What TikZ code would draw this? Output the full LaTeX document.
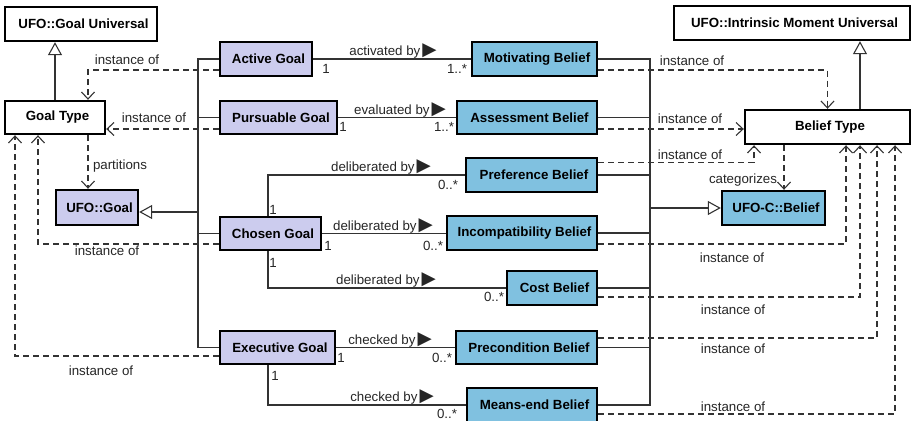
\documentclass[tikz,border=0pt]{standalone}
\usepackage{fontspec}
\setmainfont{Liberation Sans}
\newfontfamily\trifont{DejaVu Sans}
\usetikzlibrary{arrows.meta}

\definecolor{goalfill}{RGB}{204,204,238}
\definecolor{belieffill}{RGB}{128,193,224}
\newcommand\lbl{\fontsize{13.3}{15}\selectfont}
\newcommand\tri{\kern2pt{\trifont\fontsize{18.5}{18}\selectfont ▶}}

\tikzset{
  cls/.style={draw=black, line width=2.4pt, minimum height=34pt,
              inner sep=0pt, font=\lbl\bfseries,
              execute at begin node=\hspace*{5pt}},
  metabox/.style={cls, fill=white},
  goal/.style={cls, fill=goalfill},
  belief/.style={cls, fill=belieffill},
  conn/.style={line width=1.1pt, draw=black!80},
  gen/.style={conn, -{Triangle[open, fill=white, length=13pt, width=14pt]}},
  inst/.style={conn, dash pattern=on 6pt off 4pt,
               -{Straight Barb[length=7pt, width=13pt]}},
  rel/.style={anchor=south, inner sep=0.5pt, text=black!85},
  note/.style={inner sep=0pt, text=black!85},
}

\begin{document}
\begin{tikzpicture}[x=1pt, y=1pt, font=\lbl]
  \useasboundingbox (0,0) rectangle (912,-420);

  % meta level
  \node[metabox, minimum width=152pt] (gu) at (81,-24) {UFO::Goal Universal};
  \node[metabox, minimum width=100pt, minimum height=33pt] (gtype) at (55,-117.5) {Goal Type};
  \node[metabox, minimum width=236pt] (imu) at (792,-23) {UFO::Intrinsic Moment Universal};
  \node[metabox, minimum width=165pt] (btype) at (827.5,-127) {Belief Type};

  % goals
  \node[goal, minimum width=82pt, minimum height=35pt] (ugoal) at (97,-207.5) {UFO::Goal};
  \node[goal, minimum width=92pt] (active) at (266,-59) {Active Goal};
  \node[goal, minimum width=117pt, minimum height=33pt] (pursue) at (278.5,-117.5) {Pursuable Goal};
  \node[goal, minimum width=101pt, minimum height=33pt] (chosen) at (270.5,-233.5) {Chosen Goal};
  \node[goal, minimum width=115pt, minimum height=33pt] (exec) at (277.5,-347.5) {Executive Goal};

  % beliefs
  \node[belief, minimum width=125pt] (motiv) at (534.5,-59) {Motivating Belief};
  \node[belief, minimum width=140pt, minimum height=33pt] (assess) at (527,-117.5) {Assessment Belief};
  \node[belief, minimum width=131pt] (pref) at (531.5,-175) {Preference Belief};
  \node[belief, minimum width=150pt] (incomp) at (522,-233) {Incompatibility Belief};
  \node[belief, minimum width=90pt] (cost) at (552,-288) {Cost Belief};
  \node[belief, minimum width=141pt, minimum height=33pt] (precond) at (526.5,-347.5) {Precondition Belief};
  \node[belief, minimum width=130pt] (means) at (532,-405) {Means-end Belief};
  \node[belief, minimum width=103pt] (cbelief) at (773.5,-208) {UFO-C::Belief};

  % specialisation
  \draw[gen] (gtype.north) -- (gtype.north |- gu.south);
  \coordinate (bgen) at ([xshift=32.5pt]btype.north);
  \draw[gen] (bgen) -- (bgen |- imu.south);

  \coordinate (gtrunk) at (198,0);
  \draw[conn] (active.west) -| (gtrunk |- exec.west) -- (exec.west);
  \foreach \g in {pursue, chosen}
    \draw[conn] (\g.west) -- (gtrunk |- \g.west);
  \coordinate (gtip) at ([yshift=-4.5pt]ugoal.east);
  \draw[gen] (gtip -| gtrunk) -- (gtip);

  \coordinate (btrunk) at (650,0);
  \draw[conn] (motiv.east) -| (btrunk |- means.east) -- (means.east);
  \foreach \b in {assess, pref, incomp, cost, precond}
    \draw[conn] (\b.east) -- (btrunk |- \b.east);
  \draw[gen] (btrunk |- cbelief.west) -- (cbelief.west);

  % associations
  \coordinate (stem) at (268,0);
  \draw[conn] (active.east) -- (motiv.west);
  \draw[conn] (pursue.east) -- (assess.west);
  \draw[conn] (stem |- chosen.north) |- (pref.west);
  \draw[conn] (chosen.east) -- (incomp.west |- chosen.east);
  \draw[conn] (stem |- chosen.south) |- (cost.west);
  \draw[conn] (exec.east) -- (precond.west);
  \draw[conn] (stem |- exec.south) |- (means.west);

  \node[rel] (r1) at (393,-59) {activated by\tri};
  \node[rel] (r2) at (400,-117.5) {evaluated by\tri};
  \node[rel] (r3) at (381,-175) {deliberated by\tri};
  \node[rel] (r4) at (383,-233.5) {deliberated by\tri};
  \node[rel] (r5) at (386,-288) {deliberated by\tri};
  \node[rel] (r6) at (390,-347.5) {checked by\tri};
  \node[rel] (r7) at (392,-405) {checked by\tri};

  % multiplicities
  \node[note] (m1) at (326,-69) {1};
  \node[note] (m2) at (457,-69) {1..*};
  \node[note] (m3) at (343,-127) {1};
  \node[note] (m4) at (444,-127) {1..*};
  \node[note] (m5) at (273,-210) {1};
  \node[note] (m6) at (448,-185) {0..*};
  \node[note] (m7) at (328,-246) {1};
  \node[note] (m8) at (433,-246) {0..*};
  \node[note] (m9) at (273,-263) {1};
  \node[note] (m10) at (494,-297) {0..*};
  \node[note] (m11) at (341,-358) {1};
  \node[note] (m12) at (442,-358) {0..*};
  \node[note] (m13) at (275,-376) {1};
  \node[note] (m14) at (447,-414) {0..*};

  % instantiation, goal side
  \draw[inst] ([yshift=-11pt]active.west) -| ([xshift=33pt]gtype.north);
  \draw[inst] ([yshift=-11.5pt]pursue.west) -- ([yshift=-11.5pt]gtype.east);
  \coordinate (gpart) at ([xshift=33pt]gtype.south);
  \draw[inst] (gpart) -- (gpart |- ugoal.north);
  \draw[inst] ([yshift=-10.5pt]chosen.west) -| ([xshift=-17pt]gtype.south);
  \draw[inst] ([yshift=-8.5pt]exec.west) -| ([xshift=-40pt]gtype.south);

  \node[note] (i1) at (127,-60) {instance of};
  \node[note] (i2) at (154,-118) {instance of};
  \node[note] (p1) at (120,-166) {partitions};
  \node[note] (i3) at (107,-251) {instance of};
  \node[note] (i4) at (101,-371) {instance of};

  % instantiation, belief side
  \draw[inst] ([yshift=-11pt]motiv.east) -| (btype.north);
  \coordinate (ai) at ([yshift=-11.5pt]assess.east);
  \draw[inst] (ai) -- (ai -| btype.west);
  \draw[inst] ([yshift=12.5pt]pref.east) -| ([xshift=-73.5pt]btype.south);
  \coordinate (bcat) at ([xshift=-43.5pt]btype.south);
  \draw[inst] (bcat) -- (bcat |- cbelief.north);
  \draw[inst] ([yshift=-11pt]incomp.east) -| ([xshift=18.5pt]btype.south);
  \draw[inst] ([yshift=-9pt]cost.east) -| ([xshift=32.5pt]btype.south);
  \draw[inst] ([yshift=9.5pt]precond.east) -| ([xshift=49.5pt]btype.south);
  \draw[inst] ([yshift=-9pt]means.east) -| ([xshift=67.5pt]btype.south);

  \node[note] (i5) at (692,-61) {instance of};
  \node[note] (i6) at (690,-119) {instance of};
  \node[note] (i7) at (690,-155) {instance of};
  \node[note] (c1) at (743,-180) {categorizes};
  \node[note] (i8) at (732,-258) {instance of};
  \node[note] (i9) at (733,-310) {instance of};
  \node[note] (i10) at (733,-349) {instance of};
  \node[note] (i11) at (733,-407) {instance of};
\end{tikzpicture}
\end{document}
